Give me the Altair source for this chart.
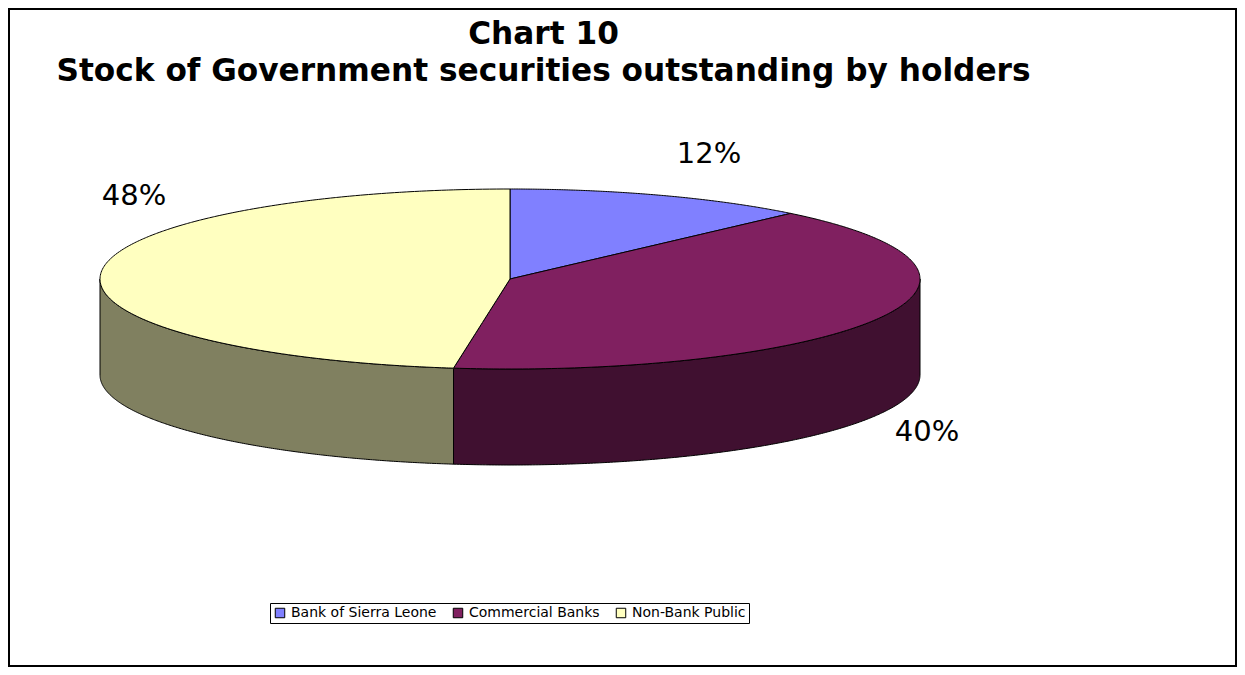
import numpy as np
import pandas as pd
import altair as alt

# ---- values
categories = ["Bank of Sierra Leone", "Commercial Banks", "Non-Bank Public"]
shares = [12.0, 40.2, 47.8]
top_colors = ["#8080FF", "#802060", "#FFFFC0"]
wall_colors = ["#404080", "#401030", "#808060"]
title_lines = ["Chart 10", "Stock of Government securities outstanding by holders"]

# ---- pie geometry, in page pixels (x and y scales map these 1:1 onto the view)
PAD = 1
W, H = 1227, 657
CX, CY, RX, RY, DEPTH = 510, 279, 410, 90, 96
ORIGIN = 8 + PAD


def rim(t_deg):
    t = np.radians(t_deg)
    return CX + RX * np.sin(t), CY - RY * np.cos(t)


def sector(t0, t1):
    """Upper and lower outline of one convex pie sector, sampled along x."""
    ts = np.linspace(t0, t1, 180)
    xs, ys = rim(ts)
    px = np.concatenate([[CX], xs, [CX]])
    py = np.concatenate([[CY], ys, [CY]])
    grid = np.unique(np.round(px, 3))
    rows = []
    for x in grid:
        hits = []
        for i in range(len(px) - 1):
            a, b = px[i], px[i + 1]
            if min(a, b) - 1e-3 <= x <= max(a, b) + 1e-3:
                if abs(b - a) < 1e-6:
                    hits += [py[i], py[i + 1]]
                else:
                    hits.append(py[i] + (x - a) / (b - a) * (py[i + 1] - py[i]))
        rows.append((x, min(hits), max(hits)))
    return rows


edges = np.concatenate([[0], np.cumsum(shares) / sum(shares) * 360])

top_rows = []
for name, a, b in zip(categories, edges[:-1], edges[1:]):
    for x, y0, y1 in sector(a, b):
        top_rows.append({"holder": name, "x": x, "y": y0, "y2": y1})
tops = pd.DataFrame(top_rows)

wall_rows = []
for i, (name, a, b) in enumerate(zip(categories, edges[:-1], edges[1:])):
    lo, hi = max(a, 90), min(b, 270)
    if lo < hi:
        xs, ys = rim(np.linspace(lo, hi, 240))
        for x, y in zip(xs, ys):
            wall_rows.append({"holder": name, "x": x, "y": y, "y2": y + DEPTH})
walls = pd.DataFrame(wall_rows).sort_values("x")

x_enc = alt.X("x:Q", scale=alt.Scale(domain=[ORIGIN, ORIGIN + W], nice=False, zero=False), axis=None)
y_enc = alt.Y("y:Q", scale=alt.Scale(domain=[ORIGIN + H, ORIGIN], nice=False, zero=False), axis=None)

layers = []
for i, name in enumerate(categories):
    part = walls[walls.holder == name]
    if len(part):
        layers.append(
            alt.Chart(part).mark_area(stroke="black", strokeWidth=1, fill=wall_colors[i], interpolate="linear")
            .encode(x=x_enc, y=y_enc, y2="y2:Q")
        )

top_layer = alt.Chart(tops).mark_area(stroke="black", strokeWidth=1, interpolate="linear", opacity=1).encode(
    x=x_enc,
    y=y_enc,
    y2="y2:Q",
    color=alt.Color(
        "holder:N",
        scale=alt.Scale(domain=categories, range=top_colors),
        sort=categories,
        legend=alt.Legend(
            title=None,
            orient="none",
            legendX=270 - ORIGIN,
            legendY=603 - ORIGIN,
            direction="horizontal",
            columns=3,
            fillColor="white",
            strokeColor="black",
            padding=3,
            labelFont="DejaVu Sans",
            labelFontSize=14,
            labelColor="black",
            symbolType="square",
            symbolSize=90,
            symbolStrokeColor="black",
            symbolStrokeWidth=1,
            symbolOpacity=1,
            columnPadding=14,
        ),
    ),
)
layers.append(top_layer)

# percentage labels, placed beside their slices as in the picture
label_pos = [(709, 154), (927, 432), (134, 196)]
for share, (lx, ly) in zip(shares, label_pos):
    layers.append(
        alt.Chart(pd.DataFrame({"t": [f"{round(share):d}%"]}))
        .mark_text(font="DejaVu Sans", fontSize=29, color="black", align="center", baseline="middle")
        .encode(text="t:N", x=alt.value(lx - ORIGIN), y=alt.value(ly - ORIGIN))
    )

chart = alt.layer(*layers).properties(
    width=W,
    height=H,
    padding=PAD,
    autosize=alt.AutoSizeParams(type="none"),
    title=alt.TitleParams(
        text=title_lines,
        font="DejaVu Sans",
        fontSize=31.2,
        fontWeight="bold",
        color="black",
        anchor="middle",
        lineHeight=37,
        orient="top",
        baseline="top",
        dx=-79,
        dy=78,
        offset=0,
        frame="group",
    ),
).configure_view(stroke="black", strokeWidth=2)

chart.save("out.html", embed_options={"renderer": "svg", "actions": False})
